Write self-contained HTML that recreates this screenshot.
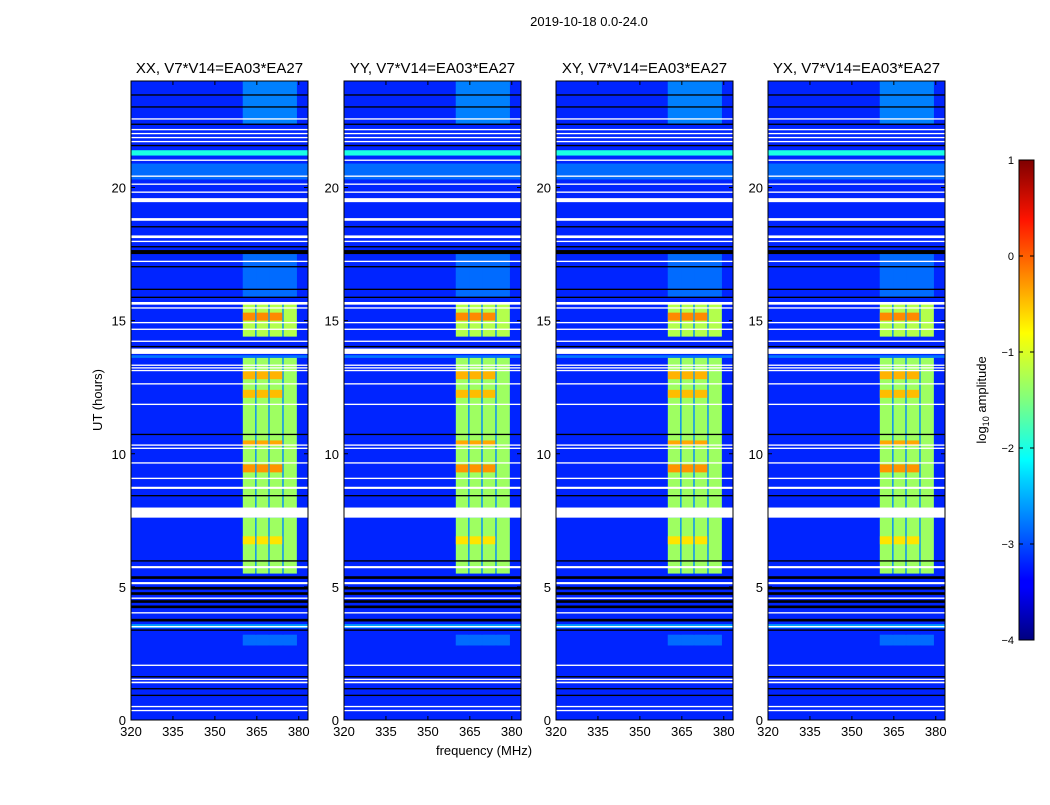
<!DOCTYPE html>
<html><head><meta charset="utf-8"><style>
body{margin:0;background:#fff;font-family:"Liberation Sans",sans-serif;}
svg text{font-family:"Liberation Sans",sans-serif;}
</style></head><body>
<svg id="fig" width="1050" height="800" xmlns="http://www.w3.org/2000/svg">
<defs><linearGradient id="jet" x1="0" y1="1" x2="0" y2="0">
<stop offset="0" stop-color="#00007f"/><stop offset="0.11" stop-color="#0000ff"/><stop offset="0.125" stop-color="#0000ff"/><stop offset="0.34" stop-color="#00d8ff"/><stop offset="0.375" stop-color="#00ffff"/><stop offset="0.5" stop-color="#7fff7f"/><stop offset="0.64" stop-color="#ffff00"/><stop offset="0.875" stop-color="#ff1400"/><stop offset="1" stop-color="#7f0000"/></linearGradient></defs>
<text x="589" y="26" font-size="13" text-anchor="middle">2019-10-18 0.0-24.0</text>
<text transform="translate(102,400) rotate(-90)" font-size="13" text-anchor="middle">UT (hours)</text>
<text x="484" y="755" font-size="13" text-anchor="middle">frequency (MHz)</text>
<rect x="1019" y="160" width="15" height="480" fill="url(#jet)" stroke="#000" stroke-width="1"/>
<text transform="translate(986,400) rotate(-90)" font-size="13" text-anchor="middle">log<tspan font-size="9" dy="3">10</tspan><tspan dy="-3"> amplitude</tspan></text>
</svg>
<script>
const panelTitles=["XX, V7*V14=EA03*EA27","YY, V7*V14=EA03*EA27","XY, V7*V14=EA03*EA27","YX, V7*V14=EA03*EA27"];
const panelLefts=[131,344,556,768];
const xTicks=[320,335,350,365,380];
const yTicks=[0,5,10,15,20];
const cbTicks=[1,0,-1,-2,-3,-4];
const backgroundLevel=-3.2;
const rowFeatures=[[21.2,21.4,-2.0],[20.3,20.9,-2.85],[3.45,3.6,-2.6],[13.6,13.7,-2.8]];
const subBands=[[360,364.4],[364.9,369.1],[369.6,374.1],[374.6,379.3]];
const bandGapLevel=-2.7;
const bandTimes=[[5.5,7.6,-1.35],[7.9,13.6,-1.35],[14.4,15.7,-1.25],[15.9,17.6,-2.85],[22.4,24,-2.75],[2.8,3.2,-2.85]];
const hotRows=[[9.3,9.6,-0.35],[12.1,12.4,-0.55],[12.8,13.1,-0.5],[10.3,10.5,-0.45],[15.0,15.3,-0.3],[6.6,6.9,-0.75]];
const whiteFlags=[[0.33,0.38],[0.48,0.53],[1.38,1.44],[1.5,1.55],[2.03,2.08],[3.48,3.53],[4.0,4.05],[4.55,4.6],[5.1,5.18],[5.7,5.78],[7.6,7.98],[8.68,8.76],[9.05,9.1],[9.63,9.68],[10.18,10.23],[10.3,10.35],[11.83,11.88],[12.6,12.65],[13.1,13.15],[13.2,13.25],[13.3,13.35],[13.75,13.95],[14.2,14.25],[14.65,14.7],[14.9,14.95],[15.45,15.5],[15.6,15.7],[17.2,17.25],[17.95,18.0],[18.1,18.2],[18.75,18.85],[19.45,19.6],[19.8,19.85],[20.1,20.15],[20.4,20.45],[21.0,21.05],[21.7,21.75],[21.85,21.9],[22.0,22.05],[22.15,22.2],[22.55,22.6]];
const blackLines=[[0.9,0.95],[1.15,1.2],[1.6,1.65],[3.35,3.4],[3.7,3.8],[4.2,4.3],[4.4,4.5],[4.7,4.8],[4.9,5.0],[5.3,5.4],[5.95,6.0],[8.4,8.45],[10.7,10.75],[14.0,14.05],[15.85,15.9],[16.15,16.2],[17.0,17.05],[17.5,17.65],[17.75,17.8],[18.5,18.55],[21.55,21.6],[22.35,22.4],[23.0,23.05],[23.45,23.5]];
const fMin=320,fMax=383.3,tMin=0,tMax=24,panelW=177,panelTop=81,panelH=639;
function jet(v){let t=(v+4)/5;t=Math.max(0,Math.min(1,t));
 const r=Math.min(Math.max(Math.min(4*t-1.5,-4*t+4.5),0),1),g=Math.min(Math.max(Math.min(4*t-0.5,-4*t+3.5),0),1),b=Math.min(Math.max(Math.min(4*t+0.5,-4*t+2.5),0),1);
 return `rgb(${Math.round(r*255)},${Math.round(g*255)},${Math.round(b*255)})`;}
const NS="http://www.w3.org/2000/svg",svg=document.getElementById('fig');
function mk(tag,attrs,parent){const e=document.createElementNS(NS,tag);for(const k in attrs)e.setAttribute(k,attrs[k]);(parent||svg).appendChild(e);return e;}
const yOf=h=>panelTop+panelH*(1-(h-tMin)/(tMax-tMin));
panelLefts.forEach((L,pi)=>{
 const xOf=f=>L+panelW*(f-fMin)/(fMax-fMin);
 const g=mk('g',{});
 
 
 let r=mk('rect',{x:L,y:panelTop,width:panelW,height:panelH,fill:jet(backgroundLevel)},g);
 
 
 rowFeatures.forEach(rf=>{const e=mk('rect',{x:L,y:yOf(rf[1]),width:panelW,height:yOf(rf[0])-yOf(rf[1]),fill:jet(rf[2])},g);
  
  });
 bandTimes.forEach(bt=>{
  const gap=mk('rect',{x:xOf(subBands[0][0]),y:yOf(bt[1]),width:xOf(subBands[3][1])-xOf(subBands[0][0]),height:yOf(bt[0])-yOf(bt[1]),fill:jet(Math.min(bandGapLevel,bt[2]))},g);
  
  
  subBands.forEach(sb=>{const e=mk('rect',{x:xOf(sb[0]),y:yOf(bt[1]),width:xOf(sb[1])-xOf(sb[0]),height:yOf(bt[0])-yOf(bt[1]),fill:jet(bt[2])},g);
   
   });});
 hotRows.forEach(hr=>{subBands.slice(0,3).forEach(sb=>{const e=mk('rect',{x:xOf(sb[0]),y:yOf(hr[1]),width:xOf(sb[1])-xOf(sb[0]),height:yOf(hr[0])-yOf(hr[1]),fill:jet(hr[2])},g);
  
  });});
 blackLines.forEach(b=>{const e=mk('rect',{x:L,y:yOf(b[1]),width:panelW,height:Math.max(1,yOf(b[0])-yOf(b[1])),fill:'#000'},g);
  
  });
 whiteFlags.forEach(w=>{const e=mk('rect',{x:L,y:yOf(w[1]),width:panelW,height:Math.max(1,yOf(w[0])-yOf(w[1])),fill:'#fff'},g);
  
  });
 const fr=mk('rect',{x:L,y:panelTop,width:panelW,height:panelH,fill:'none',stroke:'#000','stroke-width':1},g);
 
 
 const t=mk('text',{x:L+panelW/2,y:73,'font-size':15,'text-anchor':'middle'},g);t.textContent=panelTitles[pi];
 
 
 xTicks.forEach(f=>{const x=xOf(f);mk('line',{x1:x,x2:x,y1:panelTop+panelH,y2:panelTop+panelH-4,stroke:'#000'},g);mk('line',{x1:x,x2:x,y1:panelTop,y2:panelTop+4,stroke:'#000'},g);
  const tx=mk('text',{x:x,y:736,'font-size':13,'text-anchor':'middle'},g);tx.textContent=f;
  
  });
 yTicks.forEach(h=>{const y=yOf(h);mk('line',{x1:L,x2:L+4,y1:y,y2:y,stroke:'#000'},g);mk('line',{x1:L+panelW,x2:L+panelW-4,y1:y,y2:y,stroke:'#000'},g);
  const ty=mk('text',{x:L-5,y:y+5,'font-size':13,'text-anchor':'end'},g);ty.textContent=h;
  
  });
});
cbTicks.forEach(v=>{const y=160+480*(1-(v+4)/5);mk('line',{x1:1019,x2:1023,y1:y,y2:y,stroke:'#000'});mk('line',{x1:1034,x2:1030,y1:y,y2:y,stroke:'#000'});
 const t=mk('text',{x:1014,y:y+4,'font-size':11,'text-anchor':'end'});t.textContent=(v<0?'\u2212'+(-v):v);
 
 });
</script>
</body></html>
